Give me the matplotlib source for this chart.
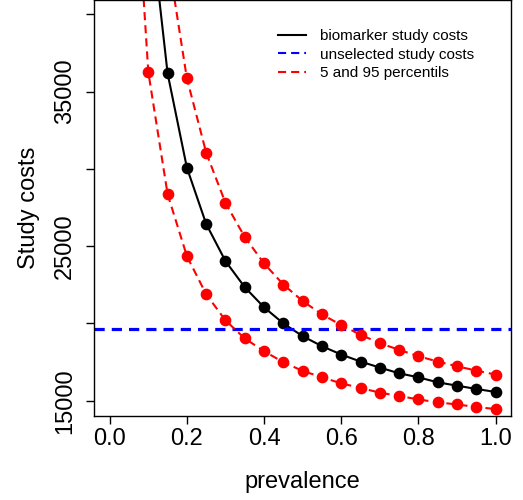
import matplotlib
matplotlib.use("Agg")
from matplotlib import pyplot as plt
from matplotlib.lines import Line2D

plt.rcParams['font.family'] = ['Liberation Sans', 'DejaVu Sans']

# prevalence grid (0.05 .. 1.0); the first values run off the top of the plot
prevalence = [0.05, 0.10, 0.15, 0.20, 0.25, 0.30, 0.35, 0.40, 0.45, 0.50,
              0.55, 0.60, 0.65, 0.70, 0.75, 0.80, 0.85, 0.90, 0.95, 1.00]

biomarker_cost = [84000, 47300, 36170, 30070, 26430, 24030, 22340, 21040, 20000, 19175,
                  18526, 17987, 17532, 17143, 16773, 16513, 16188, 15974, 15760, 15565]

upper_95 = [110000, 59000, 43820, 35844, 31039, 27792, 25584, 23877, 22513, 21448,
            20584, 19890, 19266, 18721, 18292, 17877, 17532, 17227, 16948, 16688]

lower_5 = [55700, 36253, 28357, 24351, 21883, 20195, 19026, 18201, 17487, 16929,
           16513, 16123, 15825, 15519, 15305, 15084, 14890, 14760, 14591, 14461]

unselected_cost = 19656

x_ticks = [0.0, 0.2, 0.4, 0.6, 0.8, 1.0]
y_ticks = [15000, 20000, 25000, 30000, 35000, 40000]
y_labels = ['15000', '', '25000', '', '35000', '']
legend_labels = ['biomarker study costs', 'unselected study costs', '5 and 95 percentils']

red_dash = (3.9, 2.4)
blue_dash = (3.2, 2.2)

fig = plt.figure(figsize=(5.23, 5.0), dpi=100)
ax = fig.add_axes([94.3 / 523, 1 - 415.7 / 500, (511 - 94.3) / 523, 415.7 / 500])

ax.plot(prevalence, biomarker_cost, color='black', lw=1.5, marker='o', ms=7.4)
ax.axhline(unselected_cost, color='#0000FF', lw=2.3, dashes=blue_dash)
ax.plot(prevalence, upper_95, color='#FF0000', lw=1.5, marker='o', ms=7.4, dashes=red_dash)
ax.plot(prevalence, lower_5, color='#FF0000', lw=1.5, marker='o', ms=7.4, dashes=red_dash)

ax.set_xlim(-0.04, 1.04)
ax.set_ylim(14030, 40920)

ax.set_xticks(x_ticks)
ax.set_xticklabels(['0.0', '0.2', '0.4', '0.6', '0.8', '1.0'])
ax.set_yticks(y_ticks)
ax.set_yticklabels(y_labels)
ax.tick_params(axis='both', direction='out', length=6, width=1, labelsize=17)
ax.tick_params(axis='x', pad=3)
ax.tick_params(axis='y', pad=7)
plt.setp(ax.get_yticklabels(), rotation=90, va='center', ha='right')

for sp in ax.spines.values():
    sp.set_linewidth(1)

ax.set_xlabel('prevalence', fontsize=17)
ax.set_ylabel('Study costs', fontsize=17)
ax.xaxis.set_label_coords(0.5, -0.132)
ax.yaxis.set_label_coords(-0.13, 0.5)

# legend (no box, lines only)
handles = [Line2D([], [], color='black', lw=1.5),
           Line2D([], [], color='#0000FF', lw=1.5, dashes=red_dash),
           Line2D([], [], color='#FF0000', lw=1.5, dashes=red_dash)]
leg = ax.legend(handles, legend_labels, loc='upper left',
                bbox_to_anchor=(278 / 523, 1 - 29 / 500),
                bbox_transform=fig.transFigure, frameon=False, fontsize=11,
                handlelength=1.85, handletextpad=0.9, labelspacing=0.3,
                borderpad=0, borderaxespad=0)

fig.savefig('out.png', dpi=100)
